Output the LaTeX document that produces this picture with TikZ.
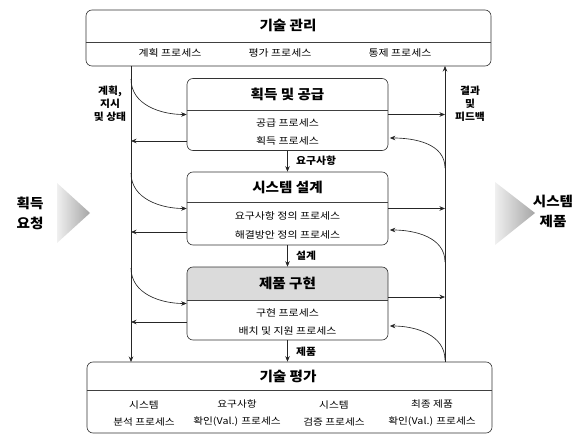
\documentclass[tikz,border=0pt]{standalone}
\usepackage{fontspec}
\setmainfont{Noto Sans CJK KR}
\newfontfamily\krwide{Noto Sans CJK KR}[FakeStretch=1.15]
\newfontfamily\krtitle{Noto Sans CJK KR}[FakeStretch=1.08]
\usetikzlibrary{arrows.meta,calc,backgrounds}
\tikzset{
  box/.style={draw=black!80, line width=0.6pt, rounded corners=6pt, rectangle, inner sep=0pt},
  divline/.style={draw=black!75, line width=0.6pt},
  ttl/.style={font=\krtitle\bfseries\fontsize{13.5}{15}\selectfont, inner sep=0pt},
  proc/.style={font=\krwide\fontsize{9.5}{11}\selectfont, inner sep=0pt},
  evproc/.style={font=\krwide\fontsize{9.3}{17}\selectfont, align=center, inner sep=0pt},
  arr/.style={-{Stealth[length=5.5pt,width=4.5pt]}, draw=black!85, line width=0.65pt},
  flowlbl/.style={font=\krtitle\bfseries\fontsize{10}{12}\selectfont, anchor=west, inner sep=0pt},
  sidelbl/.style={font=\krtitle\bfseries\fontsize{10}{13}\selectfont, align=center, inner sep=0pt},
  biglbl/.style={font=\krtitle\bfseries\fontsize{13.5}{20}\selectfont, align=center, inner sep=0pt},
}
\begin{document}
\begin{tikzpicture}[x=1pt,y=-1pt]
\useasboundingbox (0,0) rectangle (585,435);

% boxes
\node[box, minimum width=405pt, minimum height=56pt] (tm) at (288.5,38) {};
\node[box, minimum width=201pt, minimum height=72pt] (acq) at (287.5,114.5) {};
\node[box, minimum width=201pt, minimum height=73pt] (des) at (287.5,208.5) {};
\node[box, minimum width=201pt, minimum height=73pt] (imp) at (287.5,303.5) {};
\node[box, minimum width=405pt, minimum height=71pt] (ev) at (289.5,397.5) {};

% shaded header of 제품 구현
\begin{scope}[on background layer]
  \clip[rounded corners=6pt] (imp.south west) rectangle (imp.north east);
  \fill[gray!28] (imp.north west) rectangle (imp.east |- 0,301);
\end{scope}

% dividers
\draw[divline] (tm.west |- 0,42) -- (tm.east |- 0,42);
\draw[divline] (acq.west |- 0,110) -- (acq.east |- 0,110);
\draw[divline] (des.west |- 0,202) -- (des.east |- 0,202);
\draw[divline] (imp.west |- 0,300.5) -- (imp.east |- 0,300.5);
\draw[divline] (ev.west |- 0,390) -- (ev.east |- 0,390);

% texts
\node[ttl] (tmt) at (288,25) {기술 관리};
\node[proc] (tp1) at (170,53) {계획 프로세스};
\node[proc] (tp2) at (280,53) {평가 프로세스};
\node[proc] (tp3) at (400,53) {통제 프로세스};

\node[ttl] (acqt) at (287.5,94) {획득 및 공급};
\node[proc] (ap1) at (287.5,123) {공급 프로세스};
\node[proc] (ap2) at (287.5,140.5) {획득 프로세스};

\node[ttl] (dest) at (287.5,187.5) {시스템 설계};
\node[proc] (dp1) at (287.5,216) {요구사항 정의 프로세스};
\node[proc] (dp2) at (287.5,234.5) {해결방안 정의 프로세스};

\node[ttl] (impt) at (287.5,283) {제품 구현};
\node[proc] (ip1) at (287.5,313) {구현 프로세스};
\node[proc] (ip2) at (287.5,331) {배치 및 지원 프로세스};

\node[ttl] (evt) at (288,376) {기술 평가};
\node[evproc] (e1) at (144,413.5) {시스템\\분석 프로세스};
\node[evproc] (e2) at (237,413.5) {요구사항\\확인(Val.) 프로세스};
\node[evproc] (e3) at (334,413.5) {시스템\\검증 프로세스};
\node[evproc] (e4) at (432,413.5) {최종 제품\\확인(Val.) 프로세스};

% side labels
\node[sidelbl] (plan) at (110,103.5) {계획,\\지시\\및 상태};
\node[sidelbl] (fb) at (470,103.5) {결과\\및\\피드백};
\node[biglbl] (req) at (30,213) {획득\\요청};
\node[biglbl] (prod) at (553,211) {시스템\\제품};

% big grey arrows
\shade[left color=gray!12, right color=gray!70] (57,183) -- (90,213) -- (57,243) -- cycle;
\shade[left color=gray!12, right color=gray!70] (495,182) -- (535,213) -- (495,245) -- cycle;

% main vertical lines
\coordinate (lt) at (131,66);
\coordinate (lb) at (131,362);
\coordinate (rb) at (445,362);
\coordinate (rt) at (445,66);
\draw[arr] (lt) -- (lb);
\draw[arr] (rb) -- (rt);

% flow down
\draw[arr] (acq.south) -- (des.north);
\draw[arr] (des.south) -- (imp.north);
\draw[arr] (imp.south) -- (ev.north -| imp.south);
\node[flowlbl] (l1) at (296,160.5) {요구사항};
\node[flowlbl] (l2) at (296,256) {설계};
\node[flowlbl] (l3) at (296,351.5) {제품};

% left curves in
\coordinate (c2) at (131,79);
\coordinate (c3) at (131,173);
\coordinate (c4) at (131,268);
\draw[arr] (c2) to[out=-90,in=180] (acq.west);
\draw[arr] (c3) to[out=-90,in=180] (des.west);
\draw[arr] (c4) to[out=-90,in=180] (imp.west);

% left arrows out
\coordinate (o2) at ($(acq.west)+(0,26.5)$);
\coordinate (o3) at ($(des.west)+(0,23.5)$);
\coordinate (o4) at ($(imp.west)+(0,18.5)$);
\draw[arr] (o2) -- (o2 -| lt);
\draw[arr] (o3) -- (o3 -| lt);
\draw[arr] (o4) -- (o4 -| lt);

% right arrows out
\coordinate (r2) at (acq.east);
\coordinate (r3) at (des.east);
\coordinate (r4) at ($(imp.east)+(0,-6.5)$);
\draw[arr] (r2) -- (r2 -| rt);
\draw[arr] (r3) -- (r3 -| rt);
\draw[arr] (r4) -- (r4 -| rt);

% right curves in
\coordinate (s2) at (445,168);
\coordinate (s3) at (445,262);
\coordinate (s4) at (445,360);
\draw[arr] (s2) to[out=90,in=0] ($(acq.east)+(1.5,23.5)$);
\draw[arr] (s3) to[out=90,in=0] ($(des.east)+(1.5,21.5)$);
\draw[arr] (s4) to[out=90,in=0] ($(imp.east)+(1.5,22.5)$);
\end{tikzpicture}
\end{document}
